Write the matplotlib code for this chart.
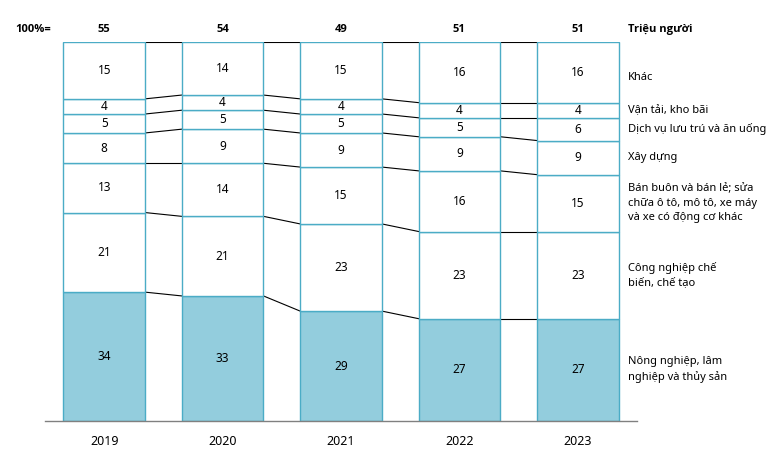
import matplotlib.pyplot as plt
import numpy as np

plt.rcParams['font.family'] = ['Noto Sans', 'DejaVu Sans']

# -- data
years = ['2019', '2020', '2021', '2022', '2023']
totals = [55, 54, 49, 51, 51]
sectors = ['Nông nghiệp, lâm\nnghiệp và thủy sản',
           'Công nghiệp chế\nbiến, chế tạo',
           'Bán buôn và bán lẻ; sửa\nchữa ô tô, mô tô, xe máy\nvà xe có động cơ khác',
           'Xây dựng',
           'Dịch vụ lưu trú và ăn uống',
           'Vận tải, kho bãi',
           'Khác']
nong_nghiep = [34, 33, 29, 27, 27]
cong_nghiep = [21, 21, 23, 23, 23]
ban_buon = [13, 14, 15, 16, 15]
xay_dung = [8, 9, 9, 9, 9]
luu_tru = [5, 5, 5, 5, 6]
van_tai = [4, 4, 4, 4, 4]
khac = [15, 14, 15, 16, 16]

shares = np.array([nong_nghiep, cong_nghiep, ban_buon, xay_dung, luu_tru, van_tai, khac])

edge = '#4BACC6'
fill_low = '#93CDDD'
w = 0.69
x = np.arange(len(years))
bold_font = ['Open Sans', 'DejaVu Sans']

fig = plt.figure(figsize=(7.77, 4.59), dpi=100)
ax = fig.add_axes([45 / 777, 38 / 459, 592 / 777, 379 / 459])

bottom = np.zeros(len(years))
for k, vals in enumerate(shares):
    ax.bar(x, vals, w, bottom=bottom, color=fill_low if k == 0 else 'white',
           edgecolor=edge, linewidth=1.0, zorder=2)
    for i in range(len(years)):
        ax.text(x[i], bottom[i] + vals[i] / 2, str(vals[i]), ha='center', va='center',
                fontsize=8.5, zorder=3)
    bottom = bottom + vals

# -- connector lines between bars
cum = np.cumsum(shares, axis=0)
for row in cum:
    for i in range(len(years) - 1):
        ax.plot([x[i] + w / 2, x[i + 1] - w / 2], [row[i], row[i + 1]],
                color='black', linewidth=0.8, zorder=1)

# -- right-hand labels at the 2023 segments
lab_x = 4.427
mid = cum[:, -1] - shares[:, -1] / 2
mid[-1] -= 1.3
for k, name in enumerate(sectors):
    ax.text(lab_x, mid[k], name, ha='left', va='center', fontsize=8,
            linespacing=1.45, clip_on=False)

# -- totals row
for i in range(len(years)):
    ax.text(x[i], 103.4, str(totals[i]), ha='center', va='center', fontsize=8,
            fontweight='bold', family=bold_font, clip_on=False)
    ax.text(x[i], -5.3, years[i], ha='center', va='center', fontsize=9, clip_on=False)
ax.text(-0.75, 103.4, '100%=', ha='left', va='center', fontsize=8,
        fontweight='bold', family=bold_font)
ax.text(lab_x, 103.4, 'Triệu người', ha='left', va='center', fontsize=8,
        fontweight='bold', family=bold_font)

ax.set_xlim(-0.5, 4.5)
ax.set_ylim(0, 100)
for s in ['top', 'left', 'right']:
    ax.spines[s].set_visible(False)
ax.spines['bottom'].set_color('#808080')
ax.spines['bottom'].set_linewidth(1.0)
ax.set_xticks([])
ax.set_yticks([])

fig.savefig('out.png', dpi=100)
